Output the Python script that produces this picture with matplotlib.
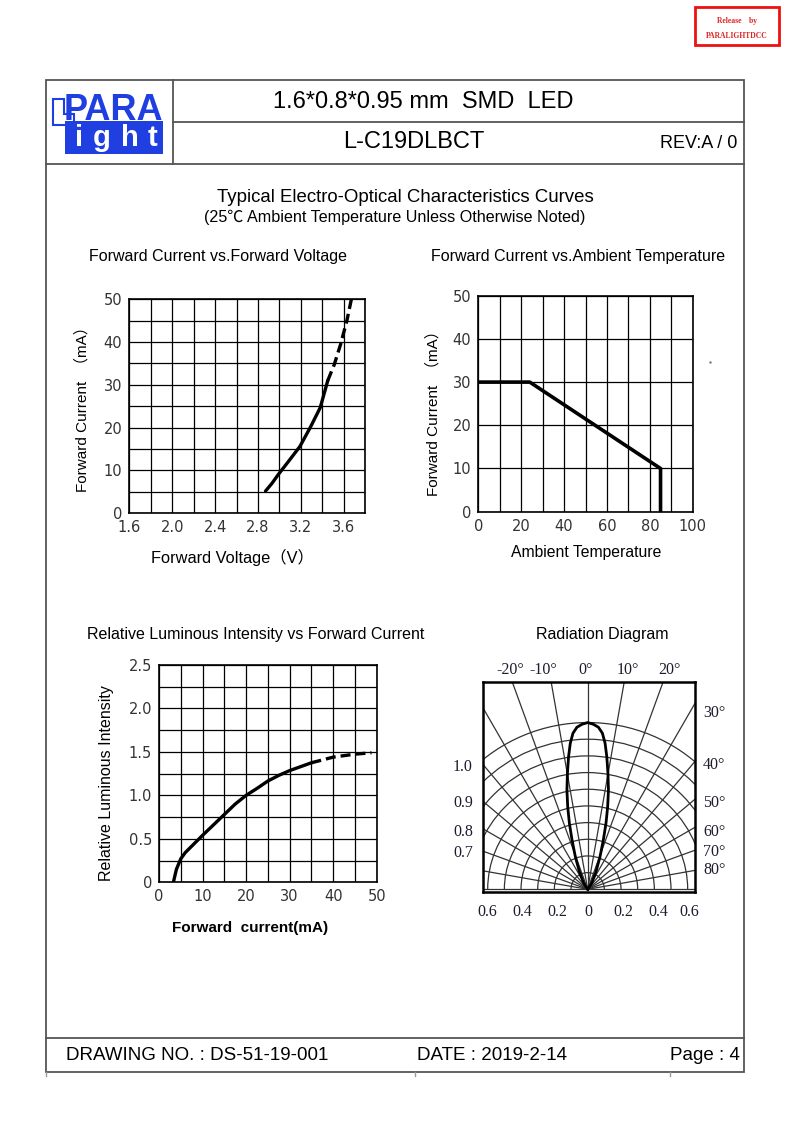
import numpy as np
import matplotlib.pyplot as plt
from matplotlib.patches import Rectangle, Polygon, Arc

W, H = 794, 1123

# Forward current vs forward voltage (solid part, then dashed part)
fv_volt = [2.87, 2.93, 2.99, 3.08, 3.19, 3.29, 3.38, 3.45]
fv_curr = [5.2, 7.0, 9.1, 12.0, 15.6, 20.2, 24.7, 31.0]
fv_volt_dash = [3.45, 3.51, 3.57, 3.63, 3.67]
fv_curr_dash = [31.0, 34.7, 39.5, 45.2, 50.0]
fv_xticks = [1.6, 2.0, 2.4, 2.8, 3.2, 3.6]
fv_yticks = [0, 10, 20, 30, 40, 50]

# Forward current vs ambient temperature
ta_temp = [0, 24, 85, 85]
ta_curr = [30, 30, 10, 0]
ta_xticks = [0, 20, 40, 60, 80, 100]
ta_yticks = [0, 10, 20, 30, 40, 50]

# Relative luminous intensity vs forward current
li_curr = [3.3, 4.0, 5.0, 6.0, 8.0, 10.0, 12.5, 15.0, 17.5, 20.0, 22.5, 25.0, 27.5, 30.0, 32.5, 35.0]
li_rel = [0.0, 0.15, 0.27, 0.34, 0.44, 0.54, 0.66, 0.78, 0.9, 1.0, 1.08, 1.165, 1.23, 1.285, 1.33, 1.375]
li_curr_dash = [35.0, 40.0, 45.1, 48.8]
li_rel_dash = [1.375, 1.44, 1.475, 1.49]
li_xticks = [0, 10, 20, 30, 40, 50]
li_yticks = [0, 0.5, 1.0, 1.5, 2.0, 2.5]
li_ylabels = ["0", "0.5", "1.0", "1.5", "2.0", "2.5"]

# Radiation diagram (angle from axis in degrees, relative intensity)
rad_angle = [0, 2.0, 3.8, 5.4, 6.8, 8.2, 9.9, 11.8, 13.6, 15.5, 17.6, 20.7, 25.3, 33.7, 40]
rad_rel = [1.0, 0.99, 0.974, 0.94, 0.882, 0.804, 0.707, 0.609, 0.51, 0.411, 0.311, 0.21, 0.117, 0.043, 0.0]
rad_radii = [0.1, 0.2, 0.3, 0.4, 0.5, 0.6, 0.7, 0.8, 0.9, 1.0]
rad_spokes = list(range(-90, 91, 10))
rad_top = ["-20°", "-10°", "0°", "10°", "20°"]
rad_right = ["30°", "40°", "50°", "60°", "70°", "80°"]
rad_left = ["1.0", "0.9", "0.8", "0.7"]
rad_bottom = ["0.6", "0.4", "0.2", "0", "0.2", "0.4", "0.6"]

plt.rcParams['font.family'] = ['Liberation Sans', 'Noto Sans CJK SC', 'DejaVu Sans']

fig = plt.figure(figsize=(W / 100, H / 100), dpi=100)
page = fig.add_axes([0, 0, 1, 1])
page.set_xlim(0, W)
page.set_ylim(H, 0)
page.axis('off')


def box(x0, y0, x1, y1):
    return fig.add_axes([x0 / W, 1 - y1 / H, (x1 - x0) / W, (y1 - y0) / H])


def txt(x, y, s, size, ha='center', **kw):
    page.text(x, y, s, fontsize=size, ha=ha, va='center', **kw)


# page frame
lc = '#555555'
page.add_patch(Rectangle((46, 80), 698, 992, fill=False, ec=lc, lw=1.3))
page.plot([173, 744], [122, 122], color=lc, lw=1.3)
page.plot([46, 744], [164, 164], color=lc, lw=1.3)
page.plot([173, 173], [80, 164], color=lc, lw=1.3)
page.plot([46, 744], [1038, 1038], color=lc, lw=1.3)
for xx in [46, 415, 670]:
    page.plot([xx, xx], [1072, 1076], color='#999999', lw=1)

# release stamp
page.add_patch(Rectangle((695, 7), 84, 38, fill=False, ec='#ee1111', lw=2))
txt(737, 21, "Release    by", 5.5, family='Liberation Serif', weight='bold', color='#dd2222')
txt(737, 36, "PARALIGHTDCC", 5.5, family='Liberation Serif', weight='bold', color='#dd2222')

# logo
blue = '#1f3fe0'
page.add_patch(Polygon([(53, 99), (64, 99), (64, 114), (74, 114), (74, 125), (53, 125)],
                       closed=True, fc='white', ec=blue, lw=1.5))
page.add_patch(Rectangle((64.5, 121), 98.5, 33, fc=blue, ec='none'))
page.text(163.5, 120.5, "PARA", fontsize=26, weight='bold', color=blue, ha='right', va='baseline')
for ch, xx in zip("ight", [79, 102, 130, 152]):
    page.text(xx, 146, ch, fontsize=21, weight='bold', color='white', ha='center', va='baseline')

# header and footer text
txt(423, 102, "1.6*0.8*0.95 mm  SMD  LED", 17)
txt(414, 142, "L-C19DLBCT", 17)
txt(737, 143, "REV:A / 0", 13, ha='right')
txt(405, 197, "Typical Electro-Optical Characteristics Curves", 13.4)
txt(395, 217, "(25℃ Ambient Temperature Unless Otherwise Noted)", 11.6)
txt(66, 1056, "DRAWING NO. : DS-51-19-001", 13.5, ha='left')
txt(417, 1056, "DATE : 2019-2-14", 13.5, ha='left')
txt(740, 1056, "Page : 4", 13.5, ha='right')

# chart titles and axis labels
txt(218, 256, "Forward Current vs.Forward Voltage", 11.5)
txt(578, 256, "Forward Current vs.Ambient Temperature", 11.5)
txt(256, 634, "Relative Luminous Intensity vs Forward Current", 11.5)
txt(602, 634, "Radiation Diagram", 11.5)
txt(82, 405, "Forward Current  （mA）", 11, rotation=90)
txt(232, 557, "Forward Voltage（V）", 11.8)
txt(433, 410, "Forward Current  （mA）", 11, rotation=90)
txt(586, 553, "Ambient Temperature", 11.3)
txt(107, 783, "Relative Luminous Intensity", 11.5, rotation=90)
txt(250, 928, "Forward  current(mA)", 11, weight='bold')


def grid_chart(ax, xlim, ylim, xminor, yminor, xt, yt, xtl=None, ytl=None):
    ax.set_xlim(xlim)
    ax.set_ylim(ylim)
    ax.set_xticks(xt)
    ax.set_yticks(yt)
    ax.set_xticks(xminor, minor=True)
    ax.set_yticks(yminor, minor=True)
    ax.set_xticklabels(xtl if xtl else [str(v) for v in xt], family='DejaVu Sans')
    ax.set_yticklabels(ytl if ytl else [str(v) for v in yt], family='DejaVu Sans')
    ax.tick_params(which='both', length=0, pad=5, labelsize=10.5, labelcolor='#333333')
    ax.grid(which='both', color='black', lw=0.9)
    ax.set_axisbelow(True)
    for s in ax.spines.values():
        s.set_linewidth(1.2)


ax1 = box(129.3, 299.3, 365.3, 513.3)
grid_chart(ax1, (1.6, 3.8), (0, 50), np.arange(1.6, 3.81, 0.2), np.arange(0, 51, 5),
           fv_xticks, fv_yticks)
ax1.plot(fv_volt, fv_curr, color='black', lw=2.4, solid_capstyle='round')
ax1.plot(fv_volt_dash, fv_curr_dash, color='black', lw=2.4, ls=(0, (3, 1.5)))

ax2 = box(478.3, 295.7, 692.7, 511.7)
grid_chart(ax2, (0, 100), (0, 50), np.arange(0, 101, 10), np.arange(0, 51, 10),
           ta_xticks, ta_yticks)
ax2.plot(ta_temp, ta_curr, color='black', lw=2.6)
page.plot([710], [362], marker='.', ms=1.5, color='#777777')

ax3 = box(159, 665, 376.7, 882.3)
grid_chart(ax3, (0, 50), (0, 2.5), np.arange(0, 51, 5), np.arange(0, 2.51, 0.25),
           li_xticks, li_yticks, ytl=li_ylabels)
ax3.plot(li_curr, li_rel, color='black', lw=2.4)
ax3.plot(li_curr_dash, li_rel_dash, color='black', lw=2.4, ls=(0, (3, 1.5)))

# radiation diagram
ax4 = box(482.7, 681.7, 695, 891.7)
ax4.set_xlim(-0.63, 0.644)
ax4.set_ylim(-0.0144, 1.245)
ax4.set_xticks([])
ax4.set_yticks([])
for s in ax4.spines.values():
    s.set_linewidth(1.8)
for r in rad_radii:
    ax4.add_patch(Arc((0, 0), 2 * r, 2 * r, theta1=0, theta2=180, color='#333333', lw=0.9))
for a in rad_spokes:
    t = np.radians(a)
    ax4.plot([0, 2 * np.sin(t)], [0, 2 * np.cos(t)], color='#333333', lw=0.9)
t = np.radians(rad_angle)
r = np.array(rad_rel)
ax4.plot(np.concatenate([-(r * np.sin(t))[::-1], r * np.sin(t)]),
         np.concatenate([(r * np.cos(t))[::-1], r * np.cos(t)]), color='black', lw=2)

serif = dict(family='Liberation Serif', color='#1c1c2e')
for s, xx in zip(rad_top, [510, 543, 586, 628, 669]):
    txt(xx, 670, s, 11.5, **serif)
for s, yy in zip(rad_right, [713, 765, 803, 832, 852, 870]):
    txt(703, yy, s, 11.5, ha='left', **serif)
for s, yy in zip(rad_left, [767, 803, 832, 853]):
    txt(463, yy, s, 11.5, **serif)
for s, xx in zip(rad_bottom, [487, 522, 557, 588, 623, 658, 689]):
    txt(xx, 912, s, 11.5, **serif)

fig.savefig('out.png', dpi=100)
